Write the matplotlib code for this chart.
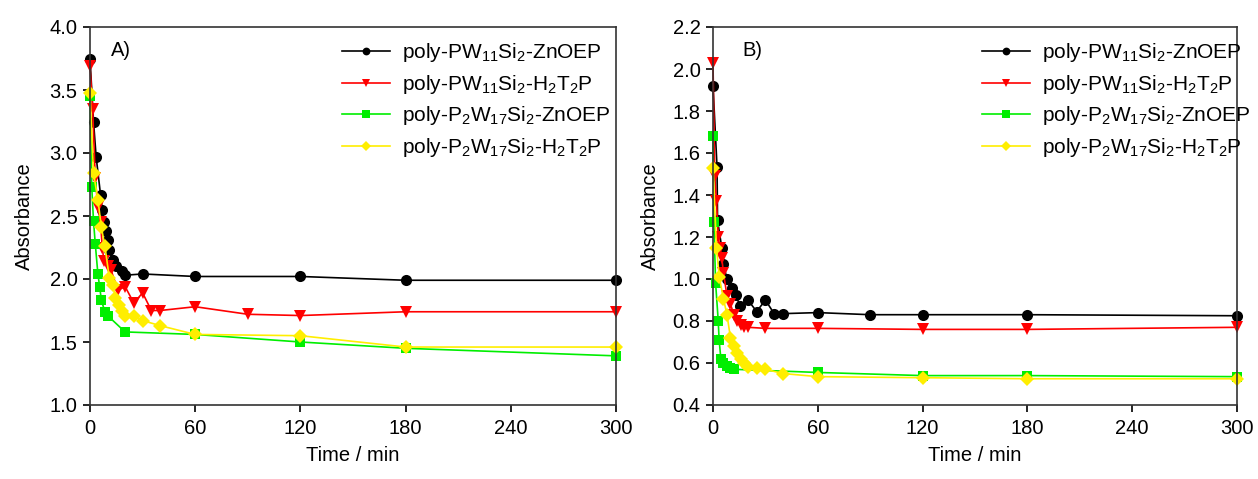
import matplotlib
matplotlib.use("Agg")
import matplotlib.pyplot as plt

plt.rcParams['font.family'] = ['Liberation Sans', 'DejaVu Sans']
plt.rcParams['mathtext.default'] = 'regular'

labels = ['poly-PW$_{11}$Si$_2$-ZnOEP', 'poly-PW$_{11}$Si$_2$-H$_2$T$_2$P',
          'poly-P$_2$W$_{17}$Si$_2$-ZnOEP', 'poly-P$_2$W$_{17}$Si$_2$-H$_2$T$_2$P']
colors = ['#000000', '#ff0000', '#00ee00', '#ffee00']
markers = ['o', 'v', 's', 'D']

# Panel A
a_black_t = [0, 2, 3.5, 6, 7, 8, 9, 10, 11, 13, 15, 18, 20, 30, 60, 120, 180, 300]
a_black_v = [3.75, 3.25, 2.97, 2.67, 2.55, 2.45, 2.38, 2.31, 2.23, 2.15, 2.10, 2.06, 2.03, 2.04, 2.02, 2.02, 1.99, 1.99]
a_red_t = [0, 1.5, 3, 4.5, 6, 7, 8, 10, 12, 16, 20, 25, 30, 35, 40, 60, 90, 120, 180, 300]
a_red_v = [3.69, 3.35, 2.80, 2.57, 2.45, 2.25, 2.14, 2.10, 2.07, 1.91, 1.94, 1.81, 1.89, 1.75, 1.75, 1.78, 1.72, 1.71, 1.74, 1.74]
a_green_t = [0, 1, 2, 3, 4.5, 5.5, 6.5, 8.5, 10, 20, 60, 120, 180, 300]
a_green_v = [3.45, 2.73, 2.46, 2.28, 2.04, 1.94, 1.83, 1.74, 1.71, 1.58, 1.56, 1.50, 1.45, 1.39]
a_yellow_t = [0, 2, 4.5, 6.5, 8.5, 11, 13, 14.5, 16.5, 18, 20, 25, 30, 40, 60, 120, 180, 300]
a_yellow_v = [3.48, 2.84, 2.63, 2.41, 2.26, 2.01, 1.95, 1.85, 1.79, 1.75, 1.71, 1.71, 1.67, 1.63, 1.56, 1.55, 1.46, 1.46]

# Panel B
b_black_t = [0, 2.3, 2.6, 5, 6, 8, 11, 13, 15.5, 20, 25, 30, 35, 40, 60, 90, 120, 180, 300]
b_black_v = [1.92, 1.535, 1.28, 1.15, 1.07, 1.00, 0.955, 0.925, 0.87, 0.90, 0.845, 0.90, 0.835, 0.835, 0.84, 0.83, 0.83, 0.83, 0.825]
b_red_t = [0, 1, 2, 3, 4, 5, 6, 8, 10, 12, 14, 16, 18, 20, 30, 60, 120, 180, 300]
b_red_v = [2.03, 1.49, 1.37, 1.20, 1.15, 1.10, 1.03, 0.92, 0.88, 0.83, 0.80, 0.78, 0.77, 0.77, 0.765, 0.765, 0.76, 0.76, 0.77]
b_green_t = [0, 0.5, 1.5, 3, 3.5, 4.5, 6, 8, 10, 12, 60, 120, 180, 300]
b_green_v = [1.68, 1.27, 0.98, 0.80, 0.71, 0.62, 0.60, 0.585, 0.575, 0.57, 0.555, 0.54, 0.54, 0.535]
b_yellow_t = [0, 2, 3.6, 6, 8, 10, 12, 14, 16, 18, 20, 25, 30, 40, 60, 120, 180, 300]
b_yellow_v = [1.53, 1.15, 1.01, 0.905, 0.83, 0.72, 0.68, 0.65, 0.62, 0.60, 0.58, 0.575, 0.57, 0.55, 0.535, 0.53, 0.525, 0.525]

xticks = [0, 60, 120, 180, 240, 300]
a_yticks = [1.0, 1.5, 2.0, 2.5, 3.0, 3.5, 4.0]
b_yticks = [0.4, 0.6, 0.8, 1.0, 1.2, 1.4, 1.6, 1.8, 2.0, 2.2]

fig = plt.figure(figsize=(12.58, 4.79), dpi=100)
W, H = 1258, 479
axA = fig.add_axes([90 / W, 1 - 405 / H, 526 / W, 378 / H])
axB = fig.add_axes([713 / W, 1 - 405 / H, 524 / W, 378 / H])

FS = 14.5
panels = [
    (axA, [(a_black_t, a_black_v), (a_red_t, a_red_v), (a_green_t, a_green_v), (a_yellow_t, a_yellow_v)],
     (1.0, 4.0), a_yticks, 'A)', 0.040, 0.463, -0.107),
    (axB, [(b_black_t, b_black_v), (b_red_t, b_red_v), (b_green_t, b_green_v), (b_yellow_t, b_yellow_v)],
     (0.4, 2.2), b_yticks, 'B)', 0.057, 0.497, -0.102),
]

for ax, series, ylim, yticks, tag, tagx, lx, ylx in panels:
    for (t, v), c, m, lab in zip(series, colors, markers, labels):
        ms = {'o': 8, 'v': 8.5, 's': 7.3, 'D': 7.3}[m]
        ax.plot(t, v, color=c, marker=m, markersize=ms, linewidth=1.2,
                markeredgewidth=0, label=lab, clip_on=False)
    ax.set_xlim(0, 300)
    ax.set_ylim(*ylim)
    ax.set_xticks(xticks)
    ax.set_yticks(yticks)
    ax.set_yticklabels(['%.1f' % y for y in yticks])
    ax.tick_params(direction='out', length=5, width=1.2, labelsize=FS,
                   top=False, right=False)
    ax.tick_params(axis='x', pad=5)
    ax.tick_params(axis='y', pad=4)
    for s in ax.spines.values():
        s.set_linewidth(1.2)
        s.set_color('#333333')
    ax.set_xlabel('Time / min', fontsize=FS, labelpad=6)
    ax.set_ylabel('Absorbance', fontsize=FS)
    ax.yaxis.set_label_coords(ylx, 0.5)
    ax.text(tagx, 0.937, tag, transform=ax.transAxes, fontsize=FS, va='center', ha='left')
    ax.legend(loc='upper left', bbox_to_anchor=(lx, 0.984), frameon=False, fontsize=15,
              handlelength=2.3, handletextpad=0.58, labelspacing=0.41, markerscale=0.7,
              borderaxespad=0)

fig.savefig('out.png', dpi=100)
